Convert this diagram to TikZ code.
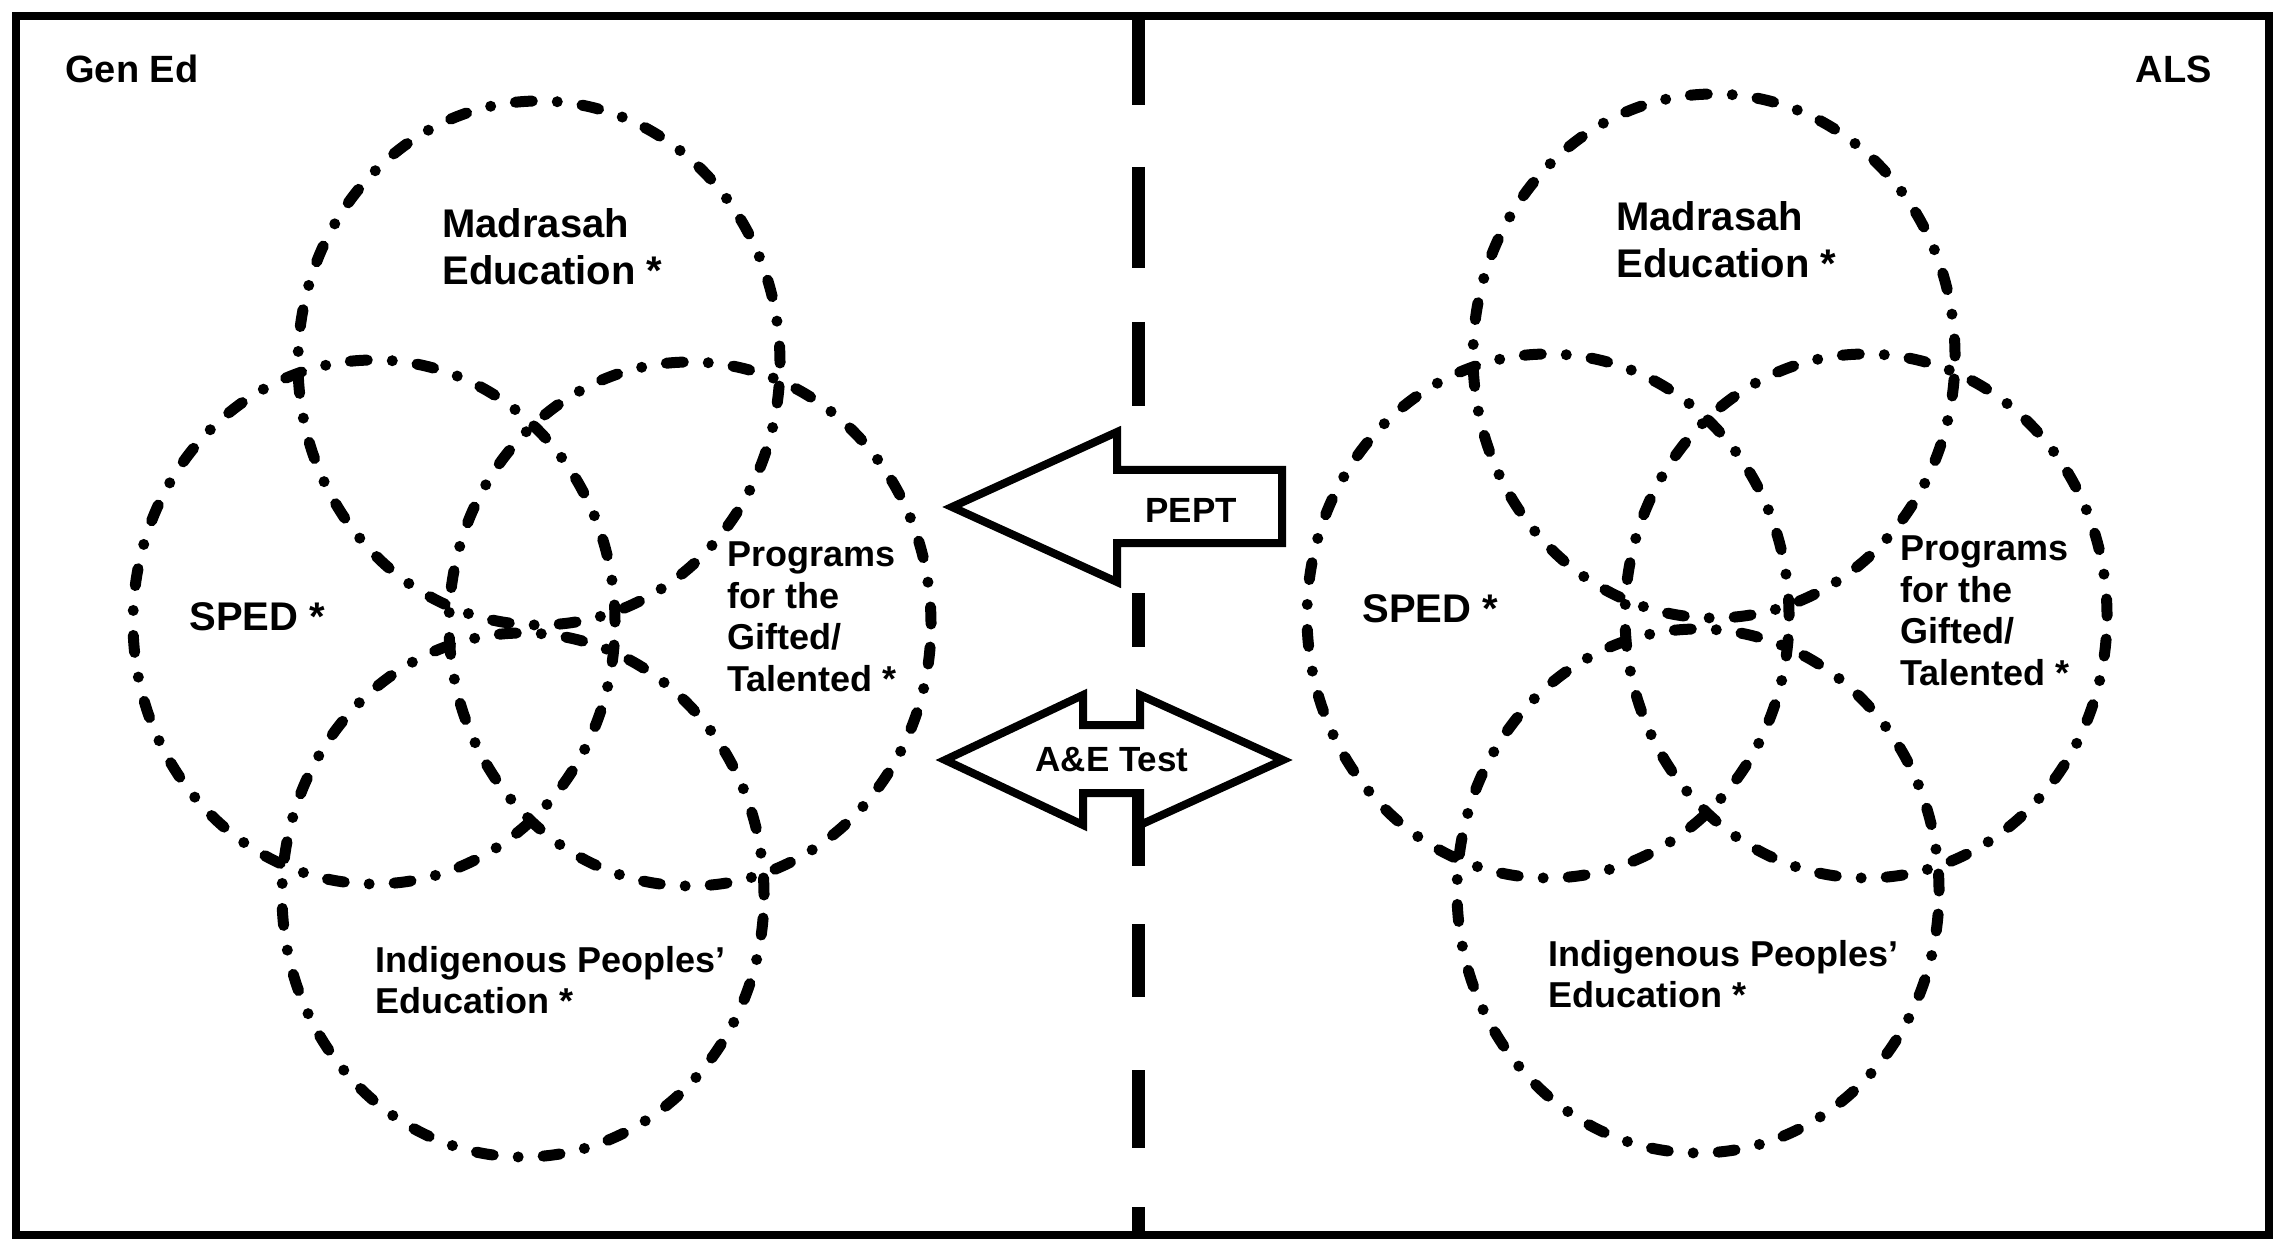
\documentclass[tikz,border=0pt]{standalone}
\usepackage{fontspec}
\setmainfont{Liberation Sans}
\begin{document}
\begin{tikzpicture}[x=0.5pt,y=-0.5pt]
\tikzset{
  frame/.style={line width=4pt},
  divider/.style={line width=6.5pt},
  ring/.style={line width=5.5pt, line cap=round,
    dash pattern=on 8.5pt off 12.5pt on 0pt off 12.5pt},
  bigarrow/.style={draw, line width=4pt, fill=white, line join=miter},
  lbl/.style={inner sep=0pt, align=left, font=\bfseries\fontsize{20pt}{23.5pt}\selectfont},
  sml/.style={inner sep=0pt, align=left, font=\bfseries\fontsize{18pt}{20.75pt}\selectfont},
  head/.style={inner sep=0pt, font=\bfseries\fontsize{19pt}{22pt}\selectfont},
  tag/.style={inner sep=0pt, font=\bfseries\fontsize{17.5pt}{20pt}\selectfont},
}
\useasboundingbox (0,0) rectangle (2279,1240);
\fill[white] (0,0) rectangle (2279,1240);

% outer frame
\draw[frame] (16,16) rectangle (2269,1235);

% dashed divider between the two sides
\foreach \a/\b in {16/105,167/268,322/406,593/647,780/866,924/997,1070/1148,1207/1235}
  \draw[divider] (1138,\a) -- (1138,\b);

% ring centres, Gen Ed side
\coordinate (gT) at (539,363);
\coordinate (gL) at (374,622);
\coordinate (gR) at (690,624);
\coordinate (gB) at (523,895);
% ring centres, ALS side
\coordinate (aT) at (1714,356);
\coordinate (aL) at (1548,616);
\coordinate (aR) at (1866,616);
\coordinate (aB) at (1698,891);

\foreach \c in {gT,gL,gR,gB,aT,aL,aR,aB}
  \draw[ring] (\c) ellipse [x radius=120.5pt, y radius=131pt];

% PEPT arrow (pointing left)
\draw[bigarrow] (952,507) -- (1117,432) -- (1117,470) -- (1282,470)
  -- (1282,543) -- (1117,543) -- (1117,582) -- cycle;
% A&E Test arrow (both ways)
\draw[bigarrow] (945,760) -- (1083,695) -- (1083,725) -- (1140,725)
  -- (1140,695) -- (1283,760) -- (1140,825) -- (1140,793)
  -- (1083,793) -- (1083,825) -- cycle;

\node[tag] (pept) at (1191,510) {PEPT};
\node[tag] (ae) at (1112,760) {A\&E Test};

% side headings
\node[head, anchor=base west] (gened) at (65,83) {Gen Ed};
\node[head, anchor=base east] (als) at (2212,83) {ALS};

% Gen Ed labels
\node[lbl, anchor=west] (gmad) at (442,247) {Madrasah\\Education *};
\node[lbl, anchor=base west] (gsped) at (189,630) {SPED *};
\node[sml, anchor=west] (gprog) at (727,617) {Programs\\for the\\Gifted/\\Talented *};
\node[sml, anchor=west] (gind) at (375,980) {Indigenous Peoples'\\Education *};

% ALS labels
\node[lbl, anchor=west] (amad) at (1616,240) {Madrasah\\Education *};
\node[lbl, anchor=base west] (asped) at (1362,622) {SPED *};
\node[sml, anchor=west] (aprog) at (1900,611) {Programs\\for the\\Gifted/\\Talented *};
\node[sml, anchor=west] (aind) at (1548,974) {Indigenous Peoples'\\Education *};
\end{tikzpicture}
\end{document}
